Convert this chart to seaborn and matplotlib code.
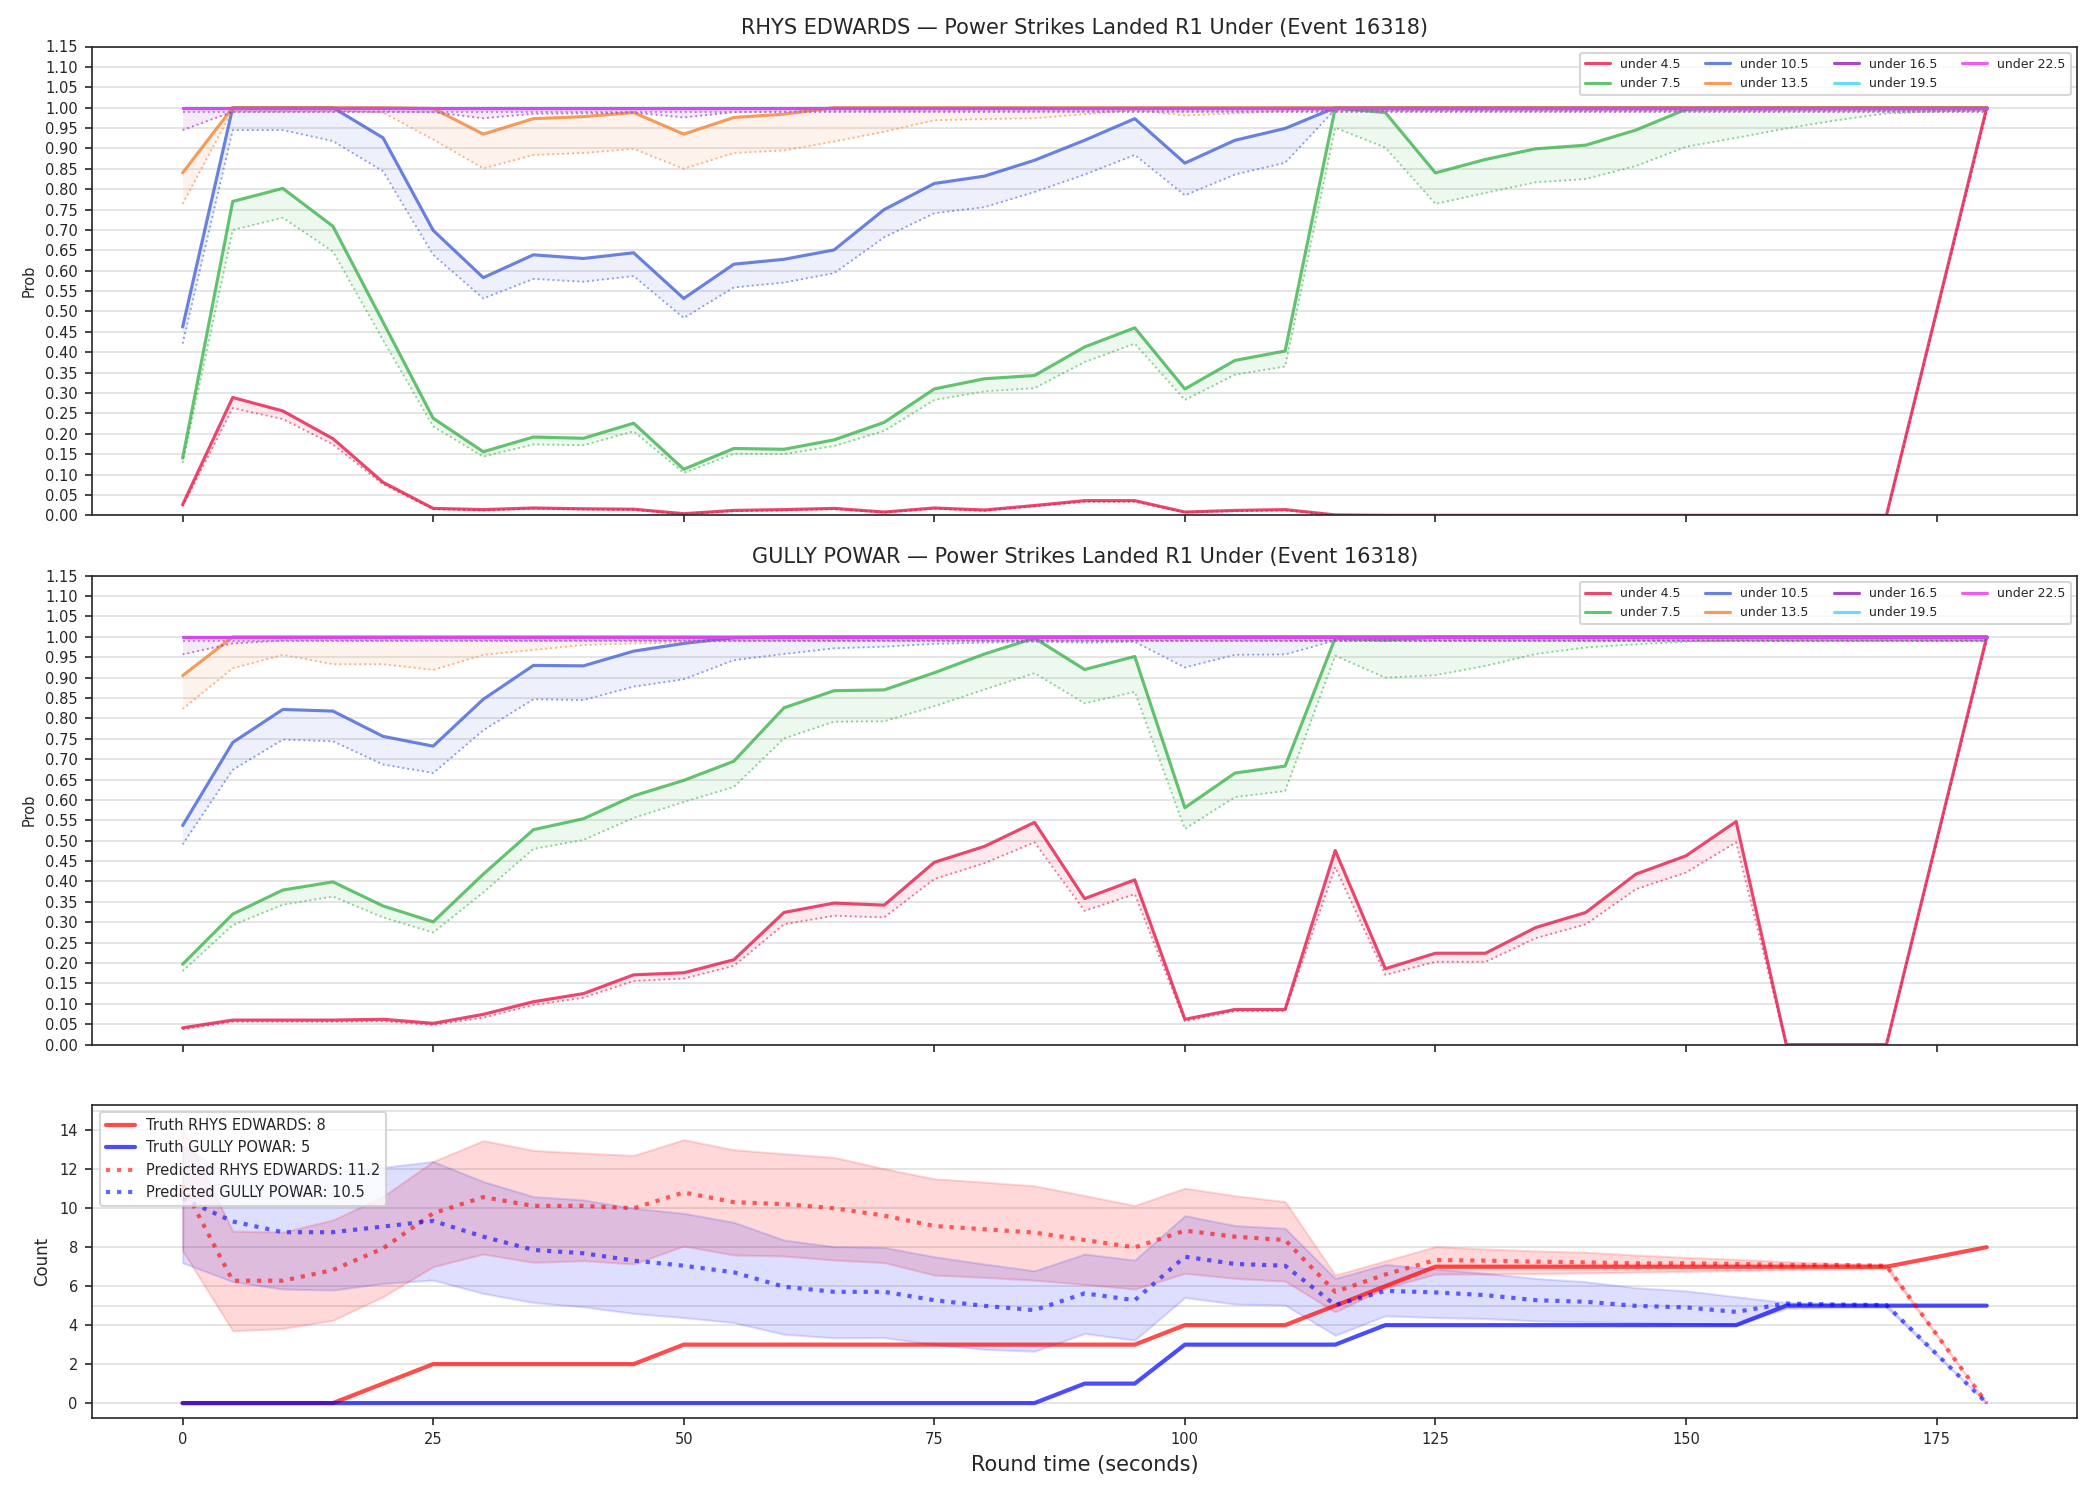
import numpy as np
import pandas as pd
import seaborn as sns
import matplotlib.pyplot as plt
from matplotlib.ticker import FormatStrFormatter

# round time (s) - no sample at 175
t = [0, 5, 10, 15, 20, 25, 30, 35, 40, 45, 50, 55, 60, 65, 70, 75, 80, 85,
     90, 95, 100, 105, 110, 115, 120, 125, 130, 135, 140, 145, 150, 155, 160,
     165, 170, 180]

thresholds = ["under 4.5", "under 7.5", "under 10.5", "under 13.5",
              "under 16.5", "under 19.5", "under 22.5"]
colors = ["#e6194b", "#3cb44b", "#4363d8", "#f58231", "#911eb4", "#42d4f4", "#f032e6"]

# ---- RHYS EDWARDS: solid = prob, dotted = lower
re_45 = [0.026, 0.289, 0.256, 0.188, 0.081, 0.017, 0.014, 0.018, 0.016, 0.015,
         0.004, 0.012, 0.014, 0.017, 0.008, 0.018, 0.013, 0.024, 0.036, 0.036,
         0.008, 0.012, 0.014, 0.001, 0, 0, 0, 0, 0, 0, 0, 0, 0, 0, 0, 1.0]
re_45_lo = [0.022, 0.263, 0.236, 0.174, 0.076, 0.015, 0.012, 0.016, 0.014, 0.013,
            0.003, 0.010, 0.012, 0.015, 0.007, 0.016, 0.011, 0.022, 0.033, 0.033,
            0.007, 0.010, 0.012, 0.001, 0, 0, 0, 0, 0, 0, 0, 0, 0, 0, 0, 0.99]
re_75 = [0.140, 0.770, 0.802, 0.709, 0.474, 0.238, 0.156, 0.192, 0.189, 0.226,
         0.113, 0.164, 0.162, 0.185, 0.228, 0.310, 0.335, 0.343, 0.413, 0.460,
         0.310, 0.380, 0.403, 0.999, 0.988, 0.840, 0.873, 0.899, 0.908, 0.945,
         0.996, 1.0, 1.0, 1.0, 1.0, 1.0]
re_75_lo = [0.129, 0.700, 0.730, 0.647, 0.430, 0.218, 0.144, 0.174, 0.172, 0.206,
            0.104, 0.151, 0.150, 0.170, 0.207, 0.283, 0.304, 0.312, 0.376, 0.421,
            0.283, 0.345, 0.365, 0.951, 0.902, 0.764, 0.791, 0.817, 0.825, 0.857,
            0.904, 0.926, 0.949, 0.969, 0.986, 0.994]
re_105 = [0.462, 1.0, 1.0, 1.0, 0.926, 0.699, 0.583, 0.639, 0.630, 0.644,
          0.532, 0.616, 0.628, 0.651, 0.750, 0.814, 0.832, 0.871, 0.920, 0.973,
          0.864, 0.920, 0.949, 1.0, 1.0, 1.0, 1.0, 1.0, 1.0, 1.0,
          1.0, 1.0, 1.0, 1.0, 1.0, 1.0]
re_105_lo = [0.421, 0.945, 0.945, 0.918, 0.844, 0.639, 0.532, 0.580, 0.573, 0.587,
             0.484, 0.559, 0.571, 0.594, 0.682, 0.741, 0.756, 0.793, 0.836, 0.884,
             0.785, 0.836, 0.865, 0.996, 0.993, 0.993, 0.993, 0.993, 0.993, 0.993,
             0.993, 0.993, 0.993, 0.993, 0.993, 0.993]
re_135 = [0.840, 1.0, 1.0, 1.0, 1.0, 0.998, 0.935, 0.973, 0.978, 0.988,
          0.935, 0.976, 0.984, 1.0, 1.0, 1.0, 1.0, 1.0, 1.0, 1.0,
          1.0, 1.0, 1.0, 1.0, 1.0, 1.0, 1.0, 1.0, 1.0, 1.0,
          1.0, 1.0, 1.0, 1.0, 1.0, 1.0]
re_135_lo = [0.764, 0.994, 0.993, 0.993, 0.988, 0.922, 0.851, 0.884, 0.889, 0.899,
             0.850, 0.889, 0.895, 0.917, 0.941, 0.969, 0.972, 0.974, 0.984, 0.994,
             0.981, 0.986, 0.992, 0.994, 0.994, 0.994, 0.994, 0.994, 0.994, 0.994,
             0.994, 0.994, 0.994, 0.994, 0.994, 0.994]
re_165_lo = [0.945, 0.990, 0.990, 0.990, 0.990, 0.989, 0.974, 0.985, 0.986, 0.988,
             0.976, 0.989, 0.990, 0.991, 0.991, 0.991, 0.991, 0.991, 0.991, 0.991,
             0.991, 0.991, 0.991, 0.991, 0.991, 0.991, 0.991, 0.991, 0.991, 0.991,
             0.991, 0.991, 0.991, 0.991, 0.991, 0.991]

# ---- GULLY POWAR
gp_45 = [0.041, 0.060, 0.060, 0.060, 0.062, 0.052, 0.074, 0.105, 0.125, 0.171,
         0.176, 0.208, 0.324, 0.347, 0.342, 0.447, 0.486, 0.545, 0.358, 0.404,
         0.062, 0.086, 0.086, 0.476, 0.186, 0.224, 0.224, 0.287, 0.324, 0.418,
         0.463, 0.547, 0, 0, 0, 1.0]
gp_45_lo = [0.037, 0.056, 0.056, 0.056, 0.057, 0.048, 0.066, 0.097, 0.115, 0.156,
            0.162, 0.193, 0.295, 0.316, 0.312, 0.406, 0.445, 0.496, 0.328, 0.369,
            0.057, 0.082, 0.082, 0.435, 0.171, 0.203, 0.203, 0.261, 0.295, 0.381,
            0.422, 0.496, 0, 0, 0, 0.99]
gp_75 = [0.197, 0.320, 0.379, 0.399, 0.340, 0.301, 0.418, 0.527, 0.554, 0.610,
         0.648, 0.695, 0.826, 0.868, 0.870, 0.912, 0.958, 0.997, 0.920, 0.952,
         0.581, 0.666, 0.683, 0.997, 0.992, 1.0, 1.0, 1.0, 1.0, 1.0,
         1.0, 1.0, 1.0, 1.0, 1.0, 1.0]
gp_75_lo = [0.180, 0.293, 0.343, 0.363, 0.312, 0.275, 0.373, 0.480, 0.502, 0.556,
            0.595, 0.632, 0.751, 0.792, 0.793, 0.830, 0.871, 0.911, 0.837, 0.865,
            0.529, 0.607, 0.622, 0.954, 0.900, 0.906, 0.929, 0.958, 0.974, 0.982,
            0.988, 0.991, 0.991, 0.991, 0.991, 0.991]
gp_105 = [0.537, 0.741, 0.822, 0.818, 0.756, 0.732, 0.847, 0.930, 0.929, 0.965,
          0.984, 0.998, 1.0, 1.0, 1.0, 1.0, 1.0, 1.0, 1.0, 1.0,
          1.0, 1.0, 1.0, 1.0, 1.0, 1.0, 1.0, 1.0, 1.0, 1.0,
          1.0, 1.0, 1.0, 1.0, 1.0, 1.0]
gp_105_lo = [0.491, 0.674, 0.748, 0.744, 0.687, 0.666, 0.771, 0.847, 0.845, 0.878,
             0.896, 0.943, 0.958, 0.972, 0.976, 0.983, 0.986, 0.988, 0.986, 0.988,
             0.925, 0.956, 0.957, 0.991, 0.991, 0.991, 0.991, 0.991, 0.991, 0.991,
             0.991, 0.991, 0.991, 0.991, 0.991, 0.991]
gp_135 = [0.905, 1.0, 1.0, 1.0, 1.0, 1.0, 1.0, 1.0, 1.0, 1.0,
          1.0, 1.0, 1.0, 1.0, 1.0, 1.0, 1.0, 1.0, 1.0, 1.0,
          1.0, 1.0, 1.0, 1.0, 1.0, 1.0, 1.0, 1.0, 1.0, 1.0,
          1.0, 1.0, 1.0, 1.0, 1.0, 1.0]
gp_135_lo = [0.823, 0.923, 0.956, 0.933, 0.933, 0.919, 0.956, 0.968, 0.980, 0.984,
             0.986, 0.990, 0.990, 0.990, 0.990, 0.990, 0.990, 0.990, 0.990, 0.990,
             0.990, 0.990, 0.990, 0.990, 0.990, 0.990, 0.990, 0.990, 0.990, 0.990,
             0.990, 0.990, 0.990, 0.990, 0.990, 0.990]
gp_165_lo = [0.957, 0.984, 0.991, 0.991, 0.991, 0.991, 0.991, 0.991, 0.991, 0.991,
             0.991, 0.991, 0.991, 0.991, 0.991, 0.991, 0.991, 0.991, 0.991, 0.991,
             0.991, 0.991, 0.991, 0.991, 0.991, 0.991, 0.991, 0.991, 0.991, 0.991,
             0.991, 0.991, 0.991, 0.991, 0.991, 0.991]

# thresholds that sit at 1.0 the whole round
all_one = [1.0] * len(t)
lo_195 = [0.990] * len(t)
lo_225 = [0.990] * len(t)

# ---- counts
truth_re = [0, 0, 0, 0, 1, 2, 2, 2, 2, 2, 3, 3, 3, 3, 3, 3, 3, 3, 3, 3,
            4, 4, 4, 5, 6, 7, 7, 7, 7, 7, 7, 7, 7, 7, 7, 8]
truth_gp = [0, 0, 0, 0, 0, 0, 0, 0, 0, 0, 0, 0, 0, 0, 0, 0, 0, 0, 1, 1,
            3, 3, 3, 3, 4, 4, 4, 4, 4, 4, 4, 4, 5, 5, 5, 5]
pred_re = [11.2, 6.28, 6.28, 6.83, 7.94, 9.74, 10.57, 10.12, 10.12, 10.0,
           10.81, 10.31, 10.21, 10.0, 9.62, 9.09, 8.92, 8.75, 8.37, 7.99,
           8.85, 8.54, 8.37, 5.71, 6.6, 7.34, 7.31, 7.26, 7.22, 7.17,
           7.17, 7.14, 7.09, 7.09, 7.05, 0]
pred_gp = [10.5, 9.32, 8.77, 8.77, 9.06, 9.35, 8.54, 7.86, 7.69, 7.31,
           7.05, 6.71, 5.97, 5.71, 5.71, 5.28, 4.99, 4.77, 5.63, 5.28,
           7.51, 7.14, 7.05, 5.03, 5.76, 5.68, 5.54, 5.28, 5.20, 4.99,
           4.91, 4.68, 5.11, 5.06, 5.03, 0]
re_band_hi = [14.1, 8.83, 8.77, 9.40, 10.6, 12.4, 13.47, 12.97, 12.83, 12.71,
              13.52, 13.0, 12.80, 12.61, 12.03, 11.51, 11.34, 11.15, 10.65, 10.14,
              11.03, 10.64, 10.34, 6.57, 7.3, 8.03, 7.91, 7.81, 7.74, 7.60,
              7.48, 7.38, 7.26, 7.17, 7.09, 0]
re_band_lo = [7.82, 3.71, 3.83, 4.25, 5.46, 7.0, 7.65, 7.22, 7.31, 7.14,
              8.06, 7.60, 7.55, 7.34, 7.21, 6.57, 6.45, 6.31, 6.09, 5.85,
              6.66, 6.40, 6.26, 4.68, 5.9, 6.62, 6.62, 6.65, 6.68, 6.72,
              6.76, 6.80, 6.84, 6.88, 6.91, 0]
gp_band_hi = [13.2, 11.6, 11.7, 11.9, 12.1, 12.4, 11.37, 10.6, 10.43, 10.0,
              9.74, 9.28, 8.37, 8.03, 7.99, 7.51, 7.14, 6.79, 7.65, 7.34,
              9.62, 9.11, 8.97, 6.40, 7.12, 6.88, 6.66, 6.40, 6.23, 5.92,
              5.76, 5.46, 5.16, 5.11, 5.06, 0]
gp_band_lo = [7.2, 6.23, 5.85, 5.80, 6.14, 6.31, 5.63, 5.16, 4.94, 4.60,
              4.39, 4.13, 3.53, 3.35, 3.36, 3.0, 2.76, 2.66, 3.57, 3.23,
              5.42, 5.08, 5.03, 3.48, 4.48, 4.39, 4.34, 4.22, 4.17, 4.13,
              4.08, 4.0, 4.86, 4.89, 4.91, 0]

sns.set_style("ticks")
plt.rcParams["font.family"] = ["DejaVu Sans"]

fig, axes = plt.subplots(3, 1, figsize=(14, 10), dpi=150, sharex=True,
                         gridspec_kw={"height_ratios": [3, 3, 2]})
fig.subplots_adjust(left=0.044, right=0.989, top=0.969, bottom=0.055, hspace=0.145)


def prob_panel(ax, series, title):
    for lab, col, (hi, lo) in zip(thresholds, colors, series):
        ax.fill_between(t, lo, hi, color=col, alpha=0.09, lw=0)
        sns.lineplot(x=t, y=hi, ax=ax, color=col, lw=1.5, alpha=0.8, label=lab)
        sns.lineplot(x=t, y=lo, ax=ax, color=col, lw=0.9, alpha=0.6, ls=":")
    ax.set_ylim(0, 1.15)
    ax.set_yticks(np.arange(0, 1.151, 0.05))
    ax.yaxis.set_major_formatter(FormatStrFormatter("%.2f"))
    ax.grid(axis="y", color=".88", lw=0.8)
    ax.set_axisbelow(True)
    ax.set_ylabel("Prob", fontsize=7)
    ax.set_title(title, fontsize=10)
    ax.tick_params(labelsize=7)
    ax.legend(loc="upper right", ncol=4, fontsize=6, framealpha=0.8)


prob_panel(axes[0], [(re_45, re_45_lo), (re_75, re_75_lo), (re_105, re_105_lo),
                     (re_135, re_135_lo), (all_one, re_165_lo),
                     (all_one, lo_195), (all_one, lo_225)],
           "RHYS EDWARDS \u2014 Power Strikes Landed R1 Under (Event 16318)")
prob_panel(axes[1], [(gp_45, gp_45_lo), (gp_75, gp_75_lo), (gp_105, gp_105_lo),
                     (gp_135, gp_135_lo), (all_one, gp_165_lo),
                     (all_one, lo_195), (all_one, lo_225)],
           "GULLY POWAR \u2014 Power Strikes Landed R1 Under (Event 16318)")

ax = axes[2]
ax.fill_between(t, re_band_lo, re_band_hi, color="red", alpha=0.15)
ax.fill_between(t, gp_band_lo, gp_band_hi, color="blue", alpha=0.13)
sns.lineplot(x=t, y=truth_re, ax=ax, color="red", lw=2, alpha=0.7,
             label=f"Truth RHYS EDWARDS: {truth_re[-1]}")
sns.lineplot(x=t, y=truth_gp, ax=ax, color="blue", lw=2, alpha=0.7,
             label=f"Truth GULLY POWAR: {truth_gp[-1]}")
sns.lineplot(x=t, y=pred_re, ax=ax, color="red", lw=2, alpha=0.6, ls=":",
             label=f"Predicted RHYS EDWARDS: {pred_re[0]}")
sns.lineplot(x=t, y=pred_gp, ax=ax, color="blue", lw=2, alpha=0.6, ls=":",
             label=f"Predicted GULLY POWAR: {pred_gp[0]}")
ax.set_ylim(-0.74, 15.3)
ax.set_yticks(np.arange(0, 15, 2))
ax.set_yticks([5, 15], minor=True)
ax.tick_params(which="minor", length=0)
ax.grid(axis="y", which="both", color=".88", lw=0.8)
ax.set_axisbelow(True)
ax.set_xticks([0, 25, 50, 75, 100, 125, 150, 175])
ax.tick_params(labelsize=7)
ax.set_ylabel("Count", fontsize=8)
ax.set_xlabel("Round time (seconds)", fontsize=10)
ax.legend(loc="upper left", fontsize=7, framealpha=0.8)

plt.savefig("out.png", dpi=150)
